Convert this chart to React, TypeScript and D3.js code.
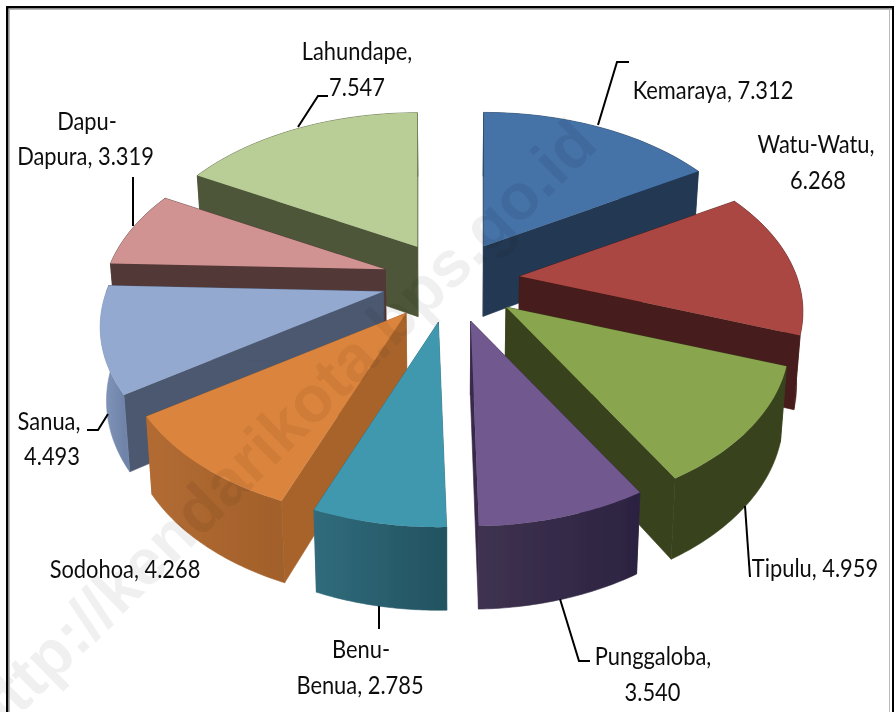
import React from 'react';
import * as d3 from 'd3';

const categories = ['Kemaraya','Watu-Watu','Tipulu','Punggaloba','Benu-Benua','Sodohoa','Sanua','Dapu-Dapura','Lahundape'];
const values = [7.312,6.268,4.959,3.540,2.785,4.268,4.493,3.319,7.547];
const topColors = ['#4572A7','#AA4643','#89A54E','#71588F','#4198AF','#DB843D','#93A9CF','#D19392','#B9CD96'];
const wallColors = ['#223953','#471C1A','#38421F','#38294A','#2D6878','#A8642C','#4C5870','#533838','#4E5738'];
const arcLeftColors = ['#223953','#471C1A','#38421F','#3F3250','#306C7C','#B26B33','#8498BE','#533838','#4E5738'];
const arcRightColors = ['#223953','#471C1A','#38421F','#2B2340','#235260','#A2602A','#7084AA','#533838','#4E5738'];
const drawOrder = ['Lahundape','Kemaraya','Dapu-Dapura','Watu-Watu','Sanua','Tipulu','Sodohoa','Punggaloba','Benu-Benua'];

const labelLines = [
  { lines: ['Kemaraya, 7.312'], x: [713], y: [99], leader: [[598,125],[617,62],[629,62]] },
  { lines: ['Watu-Watu,','6.268'], x: [816,818], y: [153,189], leader: [] },
  { lines: ['Tipulu, 4.959'], x: [815], y: [577], leader: [[745,506],[750,577]] },
  { lines: ['Punggaloba,','3.540'], x: [653,652.5], y: [665,701], leader: [[560,599],[579,661],[590,661]] },
  { lines: ['Benu-','Benua, 2.785'], x: [361,360], y: [658,694], leader: [[379,606],[379,629]] },
  { lines: ['Sodohoa, 4.268'], x: [125], y: [578], leader: [] },
  { lines: ['Sanua,','4.493'], x: [49,52], y: [430,465], leader: [[108,414],[98,430],[87,430]] },
  { lines: ['Dapu-','Dapura, 3.319'], x: [87,85.5], y: [130,165], leader: [[133,177],[133,226]] },
  { lines: ['Lahundape,','7.547'], x: [357,357], y: [60,96], leader: [[298,127],[318,96],[328,96]] },
];

const CX = 451, CY = 280, RX = 277, RY = 162, PERSP = 0.21, EXPLODE = 0.25;
type P = [number, number];
const unitPt = (r: number, t: number): P => {
  const X = r * Math.sin(t), Y = r * Math.cos(t);
  const w = 1 + PERSP * Y;
  return [RX * X / w, -RY * Y / w];
};
// each wedge is projected about its own exploded apex
const onWedge = (apex: P, t: number): P => {
  const p = unitPt(1, t);
  return [apex[0] + p[0], apex[1] + p[1]];
};
const depth = d3.scaleLinear().domain([245, 525]).range([70, 83]);
const drop = ([x, y]: P): P => [x + (CX - x) * 0.018, y + depth(y)];
const line = d3.line<P>();

const pieGen = d3.pie<number>().sort(null).startAngle(0).endAngle(2 * Math.PI);
const arcs = pieGen(values);

function arcPts(apex: P, a: number, b: number): P[] {
  if (b <= a) return [];
  return d3.range(0, 41).map(i => onWedge(apex, a + (b - a) * i / 40));
}
const wall = (pts: P[]) => line([...pts, ...pts.slice().reverse().map(drop)]) + 'Z';

const slices = arcs.map((a, i) => {
  const mid = (a.startAngle + a.endAngle) / 2;
  const e = unitPt(EXPLODE, mid);
  const apex: P = [CX + e[0], CY + e[1]];
  const s = a.startAngle, t = a.endAngle, h1 = Math.PI / 2, h2 = 3 * Math.PI / 2;
  const backA = arcPts(apex, s, Math.min(t, h1));
  const backB = arcPts(apex, Math.max(s, h2), t);
  const front = arcPts(apex, Math.max(s, h1), Math.min(t, h2));
  const top = line([apex, ...arcPts(apex, s, t)]) + 'Z';
  const rad1 = wall([apex, onWedge(apex, s)]);
  const rad2 = wall([apex, onWedge(apex, t)]);
  const xs = front.map(p => p[0]);
  return { name: categories[i], i, apex, backA, backB, front, top, rad1, rad2,
    gx1: d3.min(xs) ?? 0, gx2: d3.max(xs) ?? 1 };
});
const ordered = drawOrder.map(n => slices.find(s => s.name === n)!);

const FONT = 'Lato, sans-serif';
const TEXT_SCALE = 0.875;

export default function App() {
  return (
    <svg width={894} height={712} viewBox="0 0 894 712"
      style={{ position: 'absolute', left: 0, top: 0, display: 'block', background: '#fff' }}>
      <defs>
        <filter id="soft" x="-5%" y="-5%" width="110%" height="110%"><feGaussianBlur stdDeviation="0.55" /></filter>
        {slices.map(s => (
          <linearGradient key={s.i} id={`arc${s.i}`} gradientUnits="userSpaceOnUse" x1={s.gx1} x2={s.gx2} y1={0} y2={0}>
            <stop offset="0" stopColor={arcLeftColors[s.i]} />
            <stop offset="1" stopColor={arcRightColors[s.i]} />
          </linearGradient>
        ))}
      </defs>
      <rect width={894} height={712} fill="#fff" />
      <g filter="url(#soft)">
        {ordered.map(s => (
          <g key={s.name}>
            {s.backA.length > 0 && <path d={wall(s.backA)} fill={wallColors[s.i]} stroke={wallColors[s.i]} strokeWidth={0.6} />}
            {s.backB.length > 0 && <path d={wall(s.backB)} fill={wallColors[s.i]} stroke={wallColors[s.i]} strokeWidth={0.6} />}
            <path d={s.rad1} fill={wallColors[s.i]} stroke={wallColors[s.i]} strokeWidth={0.6} />
            <path d={s.rad2} fill={wallColors[s.i]} stroke={wallColors[s.i]} strokeWidth={0.6} />
            {s.front.length > 0 && <path d={wall(s.front)} fill={`url(#arc${s.i})`} stroke={`url(#arc${s.i})`} strokeWidth={0.6} />}
            <path d={s.top} fill={topColors[s.i]} />
          </g>
        ))}
        {labelLines.map(l => l.leader.length > 0 && (
          <path key={l.lines[0]} d={line(l.leader as P[]) ?? ''} fill="none" stroke="#000" strokeWidth={2} />
        ))}
        {labelLines.flatMap(l => l.lines.map((t, j) => (
          <text key={t} transform={`translate(${l.x[j]},${l.y[j]}) scale(${TEXT_SCALE},1)`}
            textAnchor="middle" fontFamily={FONT} fontSize={25} fill="#111">{t}</text>
        )))}
        <text transform="translate(600,147) rotate(-44.4)" textAnchor="end"
          fontFamily="Liberation Sans, sans-serif" fontWeight="bold" fontSize={65}
          fill="#000" fillOpacity={0.06}>http://kendarikota.bps.go.id</text>
      </g>
      <rect x={6} y={6} width={888} height={2.5} fill="#000" />
      <rect x={9} y={8.5} width={885} height={1.2} fill="#999" />
      <rect x={6} y={6} width={2.5} height={706} fill="#000" />
      <rect x={8.5} y={8.5} width={1.2} height={704} fill="#999" />
      <rect x={889} y={8.5} width={1} height={704} fill="#bbb" />
      <rect x={892} y={6} width={2} height={706} fill="#000" />
    </svg>
  );
}
